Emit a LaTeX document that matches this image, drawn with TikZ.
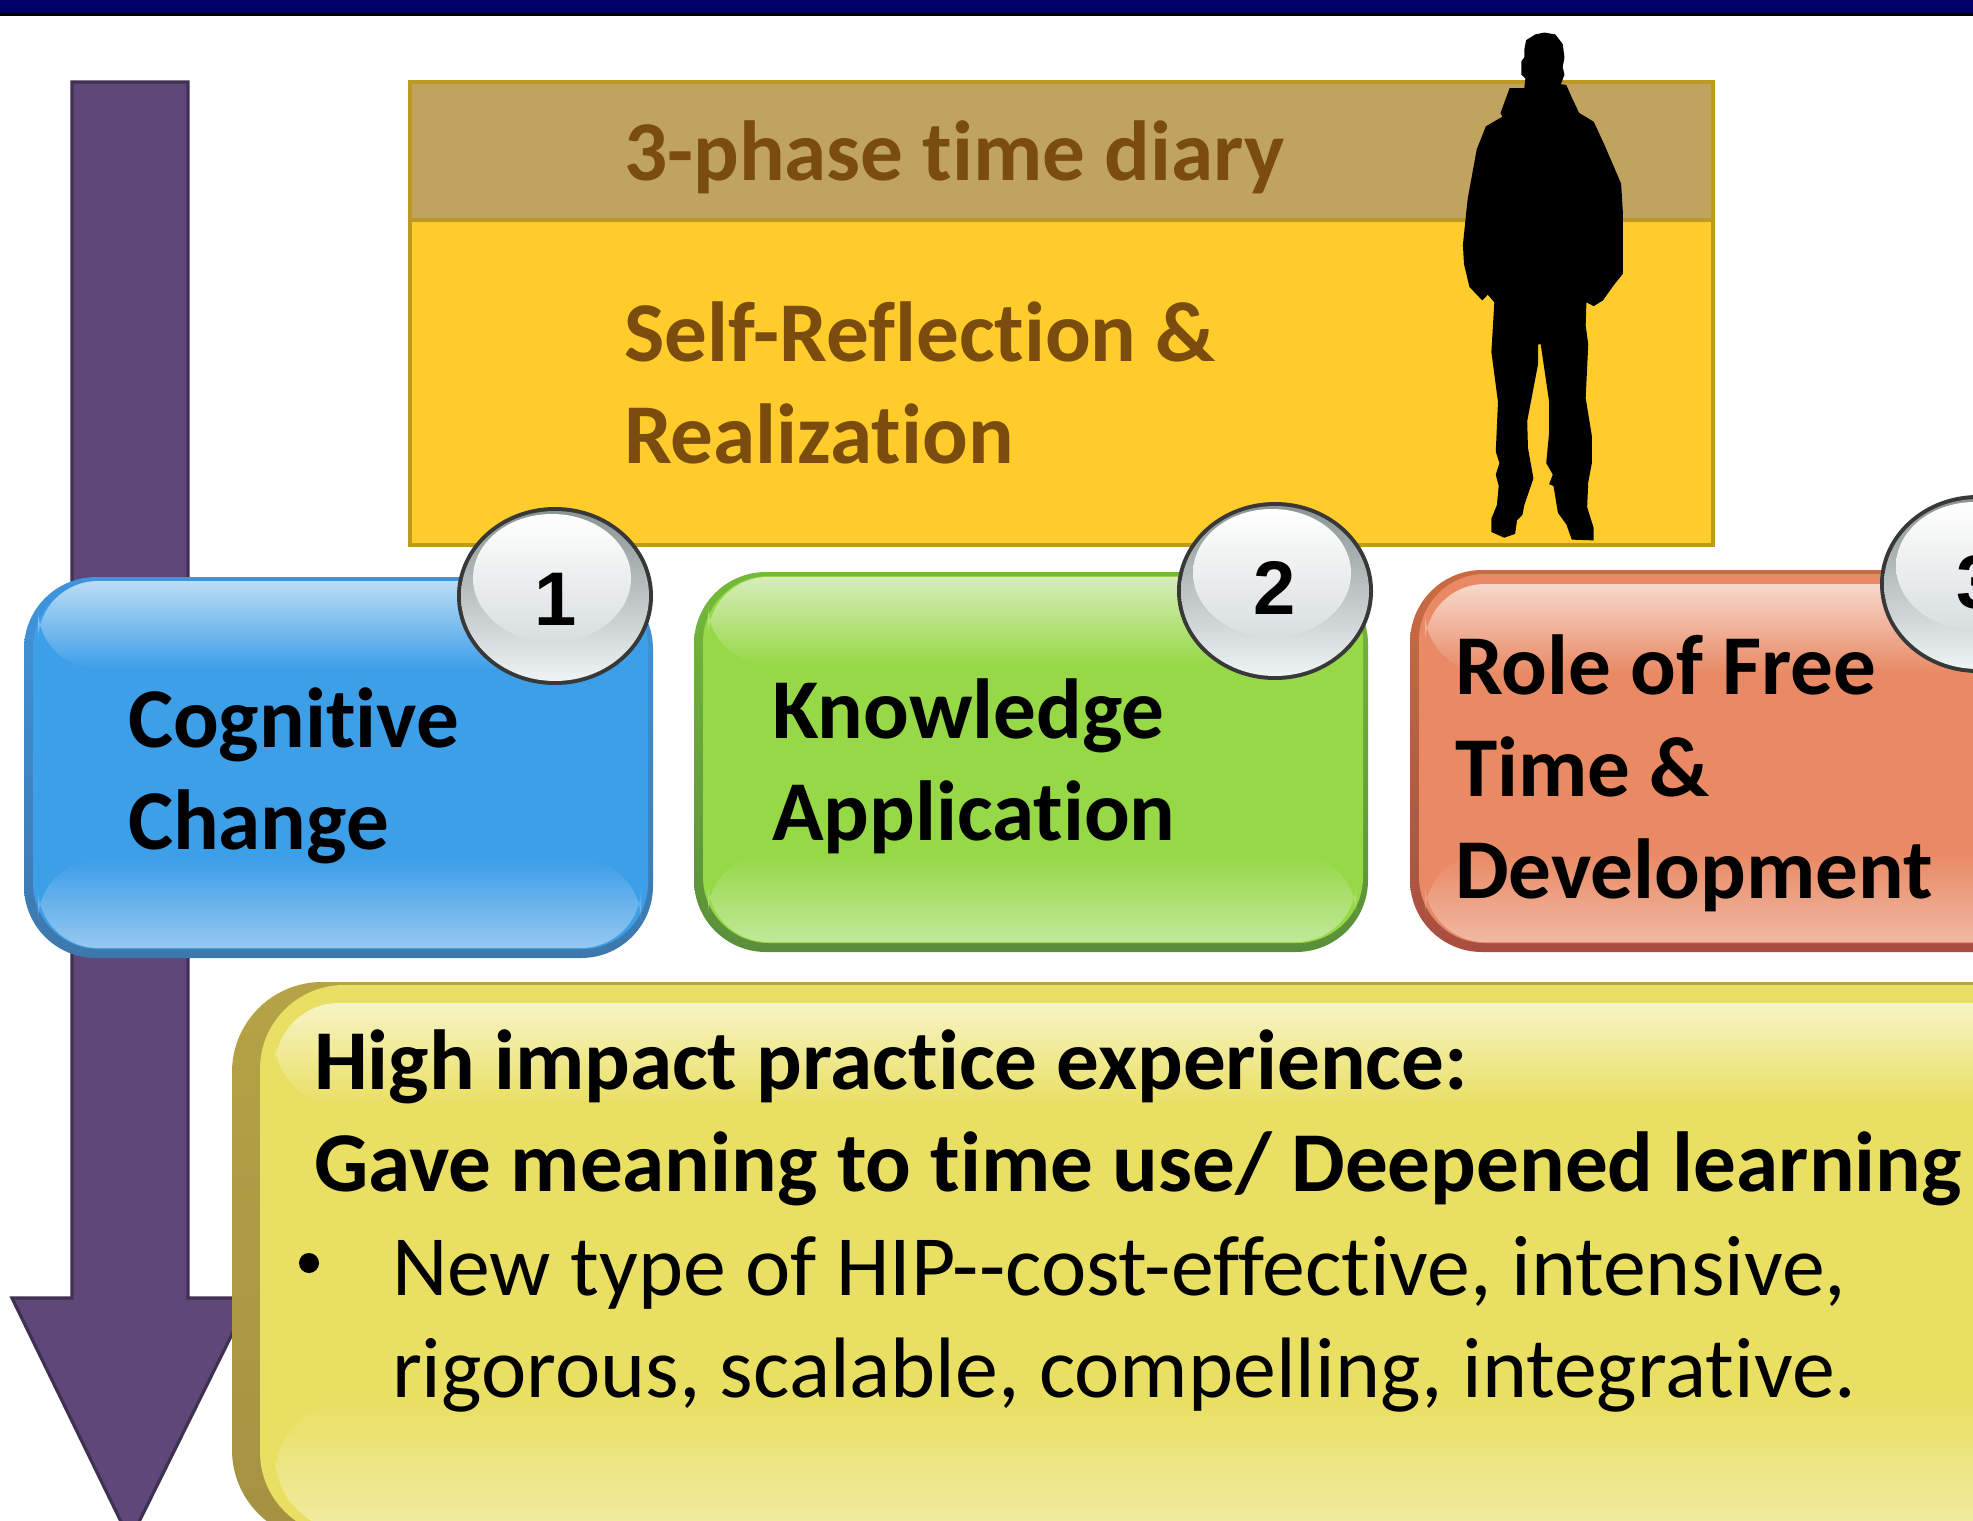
\documentclass[tikz,border=0pt]{standalone}
\usepackage{fontspec}
\setmainfont{Carlito}[Ligatures=NoCommon]
\newfontfamily\numfont{Liberation Sans}[BoldFont={Liberation Sans Bold}]
\usetikzlibrary{shapes.geometric}
\definecolor{navybar}{HTML}{000066}
\definecolor{arrowfill}{HTML}{5F4879}
\definecolor{arrowedge}{HTML}{3F3151}
\definecolor{headfill}{HTML}{C1A360}
\definecolor{goldedge}{HTML}{BE9A22}
\definecolor{diaryfill}{HTML}{FFCC2B}
\definecolor{browntext}{HTML}{7A4C0E}
\definecolor{bluebase}{HTML}{3D9FE8}
\definecolor{bluetop}{HTML}{BADCF5}
\definecolor{bluelow}{HTML}{95C8F0}
\definecolor{blueedgeA}{HTML}{3F94DC}
\definecolor{blueedgeB}{HTML}{3D78AC}
\definecolor{greenbase}{HTML}{96D846}
\definecolor{greentop}{HTML}{D8EDBB}
\definecolor{greenlow}{HTML}{C0E89A}
\definecolor{greenedgeA}{HTML}{74B93A}
\definecolor{greenedgeB}{HTML}{5A8F3A}
\definecolor{orangebase}{HTML}{E98A65}
\definecolor{orangetop}{HTML}{F7D8CC}
\definecolor{orangelow}{HTML}{F0B8A2}
\definecolor{orangeedgeA}{HTML}{C96C42}
\definecolor{orangeedgeB}{HTML}{A84E40}
\definecolor{yellowbase}{HTML}{E9DF63}
\definecolor{yellowtop}{HTML}{F7F4C5}
\definecolor{yellowlow}{HTML}{F1ECA3}
\definecolor{yellowedgeA}{HTML}{B5A346}
\definecolor{yellowedgeB}{HTML}{A59242}
\definecolor{btnA}{HTML}{8C9494}
\definecolor{btnB}{HTML}{EEF3F3}
\definecolor{btnC}{HTML}{D8DEDE}
\tikzset{
 x=0.5pt,y=-0.5pt,
 lbl/.style={inner sep=0pt,outer sep=0pt,anchor=base west,align=left,
   font=\fontsize{42.6}{51}\selectfont\bfseries},
 brown/.style={lbl,text=browntext},
 plain/.style={inner sep=0pt,outer sep=0pt,anchor=base west,align=left,
   font=\fontsize{42.9}{51}\selectfont},
 numlbl/.style={inner sep=0pt,outer sep=0pt,font=\fontsize{38}{44}\selectfont\numfont\bfseries},
}
\newcommand{\gelbase}[7]{% x1,y1,x2,y2, edgeA, edgeB, base
 \shade[top color=#5,bottom color=#6,rounded corners=36pt] (#1,#2) rectangle (#3,#4);
 \fill[#7,rounded corners=33pt] ({#1+9},{#2+4}) rectangle ({#3-5},{#4-9});
}
\newcommand{\gelgloss}[7]{% x1,ytop,x2,ybottom, base, top, low
 \shade[top color=#6,middle color=#6!62!#5,bottom color=#5,rounded corners=30pt] (#1,#2) rectangle (#3,{#2+88});
 \shade[top color=#5,bottom color=#7,rounded corners=30pt] (#1,{#4-88}) rectangle (#3,#4);
}
\newcommand{\glassbtn}[2]{% centre x, centre y
 \fill[black!78] (#1,#2) ellipse[x radius=98,y radius=89];
 \shade[top color=btnA,bottom color=btnB] (#1,#2) ellipse[x radius=94,y radius=85];
 \shade[top color=white,bottom color=btnC] ({#1-3},{#2-18}) ellipse[x radius=79,y radius=64];
}
\begin{document}
\begin{tikzpicture}
\clip (0,0) rectangle (1973,1520);
\fill[white] (0,0) rectangle (1973,1520);
% top bar
\fill[black] (0,0) rectangle (1973,16);
\fill[navybar] (0,0) rectangle (1973,13);
% big arrow
\draw[fill=arrowfill,draw=arrowedge,line width=1.6pt,line join=miter]
  (72,82) -- (188,82) -- (188,1298) -- (250,1298) -- (130,1540) -- (12,1298) -- (72,1298) -- cycle;
% diary box
\draw[fill=diaryfill,draw=goldedge,line width=2pt] (410,82) rectangle (1713,545);
\draw[fill=headfill,draw=goldedge,line width=2pt] (410,82) rectangle (1713,220);
\node[brown] (diary) at (624,180) {3-phase time diary};
\node[brown] (reflect) at (624,463) {Self-Reflection \&\\Realization};
% silhouette
\begin{scope}[shift={(1400,0)},xscale=0.3655,yscale=0.3827]
\fill[black] (340,130)--(345,105)--(370,90)--(395,85)--(425,90)--(445,115)--(450,150)--(445,175)--(450,195)--(440,220)--(455,222)--(470,255)--(490,295)--(530,318)--(560,380)--(605,480)--(610,560)--(610,715)--(585,745)--(555,785)--(530,800)--(510,790)--(508,850)--(515,900)--(508,1040)--(525,1140)--(525,1210)--(515,1260)--(512,1325)--(530,1380)--(530,1412)--(470,1410)--(455,1370)--(432,1340)--(420,1270)--(408,1265)--(418,1240)--(400,1210)--(408,1130)--(408,1050)--(385,900)--(378,900)--(378,950)--(362,1030)--(348,1100)--(350,1170)--(365,1250)--(340,1320)--(335,1345)--(320,1360)--(315,1395)--(285,1405)--(250,1390)--(250,1355)--(265,1320)--(270,1270)--(262,1240)--(272,1210)--(262,1180)--(268,1050)--(250,920)--(258,790)--(240,770)--(225,785)--(190,750)--(175,690)--(172,640)--(185,520)--(210,390)--(235,330)--(280,305)--(275,295)--(300,230)--(340,230)--(343,205)--(332,195)--(332,160)--(340,150)--cycle;
\end{scope}
% gel boxes
\gelbase{24}{577}{653}{958}{blueedgeA}{blueedgeB}{bluebase}
\gelgloss{38}{581}{641}{948}{bluebase}{bluetop}{bluelow}
\gelbase{694}{572}{1368}{952}{greenedgeA}{greenedgeB}{greenbase}
\gelgloss{708}{577}{1356}{942}{greenbase}{greentop}{greenlow}
\gelbase{1410}{570}{2060}{952}{orangeedgeA}{orangeedgeB}{orangebase}
\gelgloss{1425}{584}{2050}{942}{orangebase}{orangetop}{orangelow}
% lower yellow box
\shade[top color=yellowedgeA,bottom color=yellowedgeB,rounded corners=45pt] (232,982) rectangle (2080,1540);
\fill[yellowbase,rounded corners=42pt] (260,985) rectangle (2080,1536);
\shade[top color=yellowtop,bottom color=yellowbase,rounded corners=32pt] (275,1003) rectangle (2070,1105);
\shade[top color=yellowbase,bottom color=yellowlow,rounded corners=38pt] (275,1400) rectangle (2070,1532);
% buttons
\glassbtn{555}{596}
\glassbtn{1275}{591}
\glassbtn{1978}{584}
\node[numlbl] (n1) at (556,599) {1};
\node[numlbl] (n2) at (1275,588) {2};
\node[numlbl] (n3) at (1978,582) {3};
% labels
\node[lbl] (cog) at (128,849) {Cognitive\\Change};
\node[lbl] (know) at (772,840) {Knowledge\\Application};
\node[lbl] (role) at (1455,898) {Role of Free\\Time \&\\Development};
\node[lbl] (high) at (314,1191) {High impact practice experience:\\Gave meaning to time use/ Deepened learning};
\fill[black] (309,1263) circle[radius=10];
\node[plain] (hip) at (392,1397) {New type of HIP-{}-cost-effective, intensive,\\rigorous, scalable, compelling, integrative.};
\end{tikzpicture}
\end{document}
